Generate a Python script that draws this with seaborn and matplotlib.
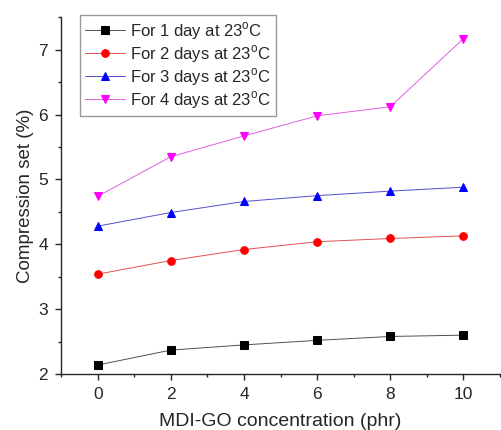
import pandas as pd
import matplotlib
matplotlib.use('Agg')
import matplotlib.pyplot as plt
import seaborn as sns
from matplotlib.ticker import MultipleLocator

# --- data ---
conc = [0, 2, 4, 6, 8, 10]
day1 = [2.14, 2.37, 2.45, 2.52, 2.58, 2.60]
day2 = [3.54, 3.75, 3.92, 4.04, 4.09, 4.13]
day3 = [4.28, 4.49, 4.66, 4.75, 4.82, 4.88]
day4 = [4.74, 5.35, 5.67, 5.98, 6.12, 7.17]
labels = ['For 1 day at 23$^\\mathrm{o}$C', 'For 2 days at 23$^\\mathrm{o}$C',
          'For 3 days at 23$^\\mathrm{o}$C', 'For 4 days at 23$^\\mathrm{o}$C']

sns.set_style('ticks')
plt.rcParams['font.family'] = ['Liberation Sans', 'DejaVu Sans']
plt.rcParams['mathtext.fontset'] = 'custom'
plt.rcParams['mathtext.rm'] = 'Liberation Sans'

fig = plt.figure(figsize=(5.01, 4.30), dpi=100)
ax = fig.add_axes([0.122, 0.130, 0.876, 0.830])

# marker colour, thinner / lighter connecting line, marker
styles = [('black', '#505050', 's'), ('red', '#e05050', 'o'),
          ('blue', '#5050d0', '^'), ('magenta', '#e060e0', 'v')]
for vals, lab, (c, lc, m) in zip([day1, day2, day3, day4], labels, styles):
    sns.lineplot(x=conc, y=vals, ax=ax, color=lc, marker=m, markersize=5.5,
                 markerfacecolor=c, markeredgecolor=c, linewidth=0.7, label=lab)

ax.set_xlim(-1, 11)
ax.set_ylim(2, 7.5)
ax.xaxis.set_major_locator(MultipleLocator(2))
ax.xaxis.set_minor_locator(MultipleLocator(1))
ax.yaxis.set_major_locator(MultipleLocator(1))
ax.yaxis.set_minor_locator(MultipleLocator(0.5))
ax.tick_params(which='major', length=4.5, width=1, labelsize=12.5, direction='out', pad=5)
ax.tick_params(which='minor', length=2.5, width=1, direction='out')
sns.despine(ax=ax)
ax.spines['left'].set_linewidth(1)
ax.spines['bottom'].set_linewidth(1)

ax.set_xlabel('MDI-GO concentration (phr)', fontsize=14, labelpad=8)
ax.set_ylabel('Compression set (%)', fontsize=13.5, labelpad=3)

leg = ax.legend(loc='upper left', bbox_to_anchor=(80 / 501, 1 - 15 / 430),
                bbox_transform=fig.transFigure, fontsize=12,
                frameon=True, fancybox=False, edgecolor='gray',
                handlelength=2.4, handletextpad=0.3, borderpad=0.3,
                labelspacing=0.08, borderaxespad=0)
leg.get_frame().set_linewidth(1)

plt.savefig('out.png', dpi=100)
plt.close()
